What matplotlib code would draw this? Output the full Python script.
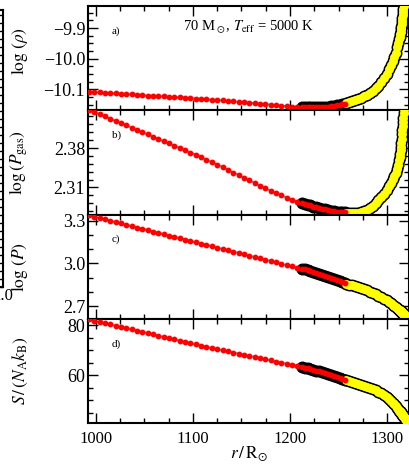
import matplotlib
matplotlib.use("Agg")
import matplotlib.pyplot as plt
from matplotlib.ticker import MultipleLocator, FixedLocator, FuncFormatter

plt.rcParams["font.family"] = ["Liberation Serif", "DejaVu Serif"]
plt.rcParams["mathtext.fontset"] = "stix"

# radius grid [R_sun]: radiative part, convective part, outer part
r_rad = [993, 998.5, 1004, 1009.5, 1015, 1020.5, 1026, 1031.5, 1037, 1042.5,
         1048, 1053.5, 1059, 1064.5, 1070, 1075.5, 1081, 1086.5, 1092, 1097.5,
         1103, 1108.5, 1114, 1119.5, 1125, 1130.5, 1136, 1141.5, 1147, 1152.5,
         1158, 1163.5, 1169, 1174.5, 1180, 1185.5, 1191, 1196.5, 1202, 1207.5]
r_conv = [1212, 1215, 1218, 1221, 1224, 1227, 1230, 1233, 1236, 1239, 1242,
          1245, 1248, 1251, 1254, 1257]
r_out = [1258, 1261, 1264, 1267, 1270, 1273, 1276, 1279, 1282, 1285, 1288,
         1291, 1294, 1297, 1299.5, 1302, 1304, 1306, 1307.5, 1309, 1310.5,
         1311.5, 1312.5, 1313, 1313.5, 1313.9, 1314.3, 1314.65, 1315, 1315.35,
         1315.7, 1316, 1316.3, 1316.6, 1316.9, 1317.2, 1317.5, 1318, 1318.5,
         1319, 1319.5, 1320, 1320.5, 1321, 1321.5, 1322, 1322.5, 1323, 1323.5]

# log(rho)
rho_rad = [-10.108, -10.109, -10.110, -10.111, -10.112, -10.113, -10.114, -10.115,
           -10.116, -10.117, -10.119, -10.120, -10.121, -10.122, -10.123, -10.124,
           -10.125, -10.126, -10.127, -10.129, -10.130, -10.131, -10.132, -10.134,
           -10.135, -10.136, -10.138, -10.139, -10.141, -10.142, -10.144, -10.145,
           -10.147, -10.148, -10.150, -10.152, -10.153, -10.155, -10.156, -10.157]
rho_conv = [-10.158, -10.158, -10.159, -10.159, -10.159, -10.159, -10.158, -10.158,
            -10.157, -10.156, -10.155, -10.154, -10.152, -10.150, -10.148, -10.146]
rho_out = [-10.145, -10.142, -10.139, -10.135, -10.131, -10.127, -10.123, -10.118,
           -10.112, -10.105, -10.097, -10.088, -10.077, -10.063, -10.050, -10.035,
           -10.022, -10.008, -9.995, -9.980, -9.963, -9.950, -9.936, -9.928,
           -9.920, -9.912, -9.903, -9.895, -9.886, -9.876, -9.866, -9.857,
           -9.848, -9.838, -9.828, -9.818, -9.808, -9.790, -9.770, -9.750,
           -9.730, -9.710, -9.690, -9.670, -9.650, -9.630, -9.610, -9.590, -9.570]

# log(P_gas)
pgas_rad = [2.448, 2.444, 2.440, 2.436, 2.432, 2.428, 2.424, 2.420, 2.416, 2.412,
            2.408, 2.404, 2.400, 2.396, 2.392, 2.388, 2.384, 2.380, 2.376, 2.372,
            2.368, 2.364, 2.359, 2.355, 2.350, 2.346, 2.341, 2.336, 2.332, 2.327,
            2.323, 2.318, 2.313, 2.309, 2.304, 2.300, 2.296, 2.292, 2.288, 2.285]
pgas_conv = [2.283, 2.281, 2.279, 2.278, 2.276, 2.275, 2.274, 2.272, 2.271, 2.270,
             2.269, 2.268, 2.267, 2.267, 2.266, 2.266]
pgas_out = [2.265, 2.264, 2.264, 2.264, 2.265, 2.266, 2.268, 2.270, 2.273, 2.277,
            2.282, 2.287, 2.293, 2.299, 2.305, 2.312, 2.318, 2.325, 2.330, 2.336,
            2.343, 2.350, 2.358, 2.364, 2.370, 2.376, 2.382, 2.389, 2.396, 2.404,
            2.412, 2.419, 2.426, 2.434, 2.442, 2.450, 2.458, 2.470, 2.480, 2.490,
            2.500, 2.510, 2.520, 2.530, 2.540, 2.550, 2.560, 2.570, 2.580]

# log(P)
p_rad = [3.336, 3.327, 3.317, 3.308, 3.298, 3.289, 3.280, 3.270, 3.261, 3.251,
         3.242, 3.233, 3.223, 3.214, 3.204, 3.195, 3.186, 3.176, 3.167, 3.157,
         3.148, 3.139, 3.129, 3.120, 3.110, 3.101, 3.091, 3.082, 3.073, 3.063,
         3.054, 3.044, 3.035, 3.026, 3.016, 3.007, 2.997, 2.988, 2.979, 2.969]
p_conv = [2.964, 2.958, 2.952, 2.946, 2.939, 2.932, 2.925, 2.918, 2.911, 2.904,
          2.897, 2.890, 2.883, 2.876, 2.868, 2.861]
p_out = [2.859, 2.853, 2.847, 2.841, 2.834, 2.827, 2.820, 2.812, 2.804, 2.795,
         2.786, 2.776, 2.765, 2.754, 2.744, 2.733, 2.723, 2.713, 2.705, 2.697,
         2.688, 2.682, 2.676, 2.673, 2.670, 2.668, 2.665, 2.663, 2.660, 2.658,
         2.655, 2.653, 2.651, 2.649, 2.646, 2.644, 2.642, 2.638, 2.634, 2.629,
         2.625, 2.620, 2.615, 2.610, 2.604, 2.598, 2.590, 2.580, 2.570]

# specific entropy S / (N_A k_B)
s_rad = [82.3, 81.8, 81.3, 80.8, 80.3, 79.8, 79.3, 78.8, 78.3, 77.8,
         77.3, 76.8, 76.3, 75.8, 75.3, 74.8, 74.3, 73.8, 73.3, 72.8,
         72.3, 71.8, 71.3, 70.85, 70.4, 69.95, 69.5, 69.05, 68.6, 68.15,
         67.7, 67.25, 66.8, 66.35, 65.9, 65.45, 65.0, 64.55, 64.1, 63.65]
s_conv = [63.3, 63.0, 62.7, 62.4, 62.1, 61.8, 61.45, 61.1, 60.75, 60.4,
          60.05, 59.7, 59.3, 58.9, 58.5, 58.1]
s_out = [57.95, 57.6, 57.2, 56.8, 56.45, 56.05, 55.65, 55.3, 54.85, 54.4,
         53.9, 53.4, 52.8, 52.0, 51.2, 50.3, 49.6, 48.9, 48.3, 47.6,
         46.9, 46.4, 45.8, 45.55, 45.3, 45.1, 44.9, 44.7, 44.5, 44.3,
         44.1, 43.95, 43.8, 43.6, 43.4, 43.25, 43.1, 42.8, 42.5, 42.2,
         41.9, 41.6, 41.3, 41.0, 40.7, 40.4, 40.0, 39.6, 39.2]

panel_tags = ["a)", "b)", "c)", "d)"]
ylabels = [r"$\log\,(\rho)$",
           r"$\log\left(P_{\rm gas}\right)$",
           r"$\log\,(P)$",
           r"$S\,/\,(N_{\rm A}k_{\rm B})$"]
yticks = [[-10.1, -10.0, -9.9], [2.31, 2.38], [2.7, 3.0, 3.3], [60, 80]]
yminor = [0.025, 0.014, 0.1, 5]
yfmt = ["%.1f", "%.2f", "%.1f", "%d"]
ylims = [(-10.168, -9.828), (2.262, 2.447), (2.614, 3.342), (40.8, 82.6)]
xticks = [1000, 1100, 1200, 1300]

series = [(rho_rad, rho_conv, rho_out),
          (pgas_rad, pgas_conv, pgas_out),
          (p_rad, p_conv, p_out),
          (s_rad, s_conv, s_out)]


def minus_formatter(fmt):
    return FuncFormatter(lambda v, pos: (fmt % v).replace("-", "\u2212"))


fig = plt.figure(figsize=(4.1, 4.69), dpi=100)
gs = fig.add_gridspec(4, 1, left=88 / 410, right=409.5 / 410,
                      top=1 - 6 / 469, bottom=1 - 423 / 469, hspace=0)
axes = [fig.add_subplot(gs[i]) for i in range(4)]
for ax in axes[1:]:
    ax.sharex(axes[0])

for i, ax in enumerate(axes):
    v_rad, v_conv, v_out = series[i]
    r_all = r_rad + r_conv + r_out
    v_all = v_rad + v_conv + v_out
    ax.plot(r_all, v_all, color="#7a8797", lw=1.4, zorder=1)
    ax.plot(r_conv, v_conv, ls="none", marker="o", ms=7.6, color="black", zorder=2)
    ax.plot(r_out, v_out, ls="none", marker="o", ms=7.6, color="black", zorder=2)
    ax.plot(r_out, v_out, ls="none", marker="o", ms=5.4, color="#ffff00", zorder=3)
    ax.plot(r_rad + r_conv, v_rad + v_conv, ls="none", marker="o", ms=3.2,
            color="red", zorder=4)

    ax.set_xlim(992, 1323)
    ax.set_ylim(*ylims[i])
    ax.yaxis.set_major_locator(FixedLocator(yticks[i]))
    ax.yaxis.set_minor_locator(MultipleLocator(yminor[i]))
    ax.yaxis.set_major_formatter(minus_formatter(yfmt[i]))
    ax.xaxis.set_major_locator(FixedLocator(xticks))
    ax.xaxis.set_minor_locator(MultipleLocator(25))
    ax.tick_params(which="both", direction="in", top=True, right=True,
                   width=1.0, labelsize=13, pad=2)
    ax.tick_params(which="major", length=7)
    ax.tick_params(which="minor", length=3.6)
    for sp in ax.spines.values():
        sp.set_linewidth(1.5)
    ax.set_ylabel(ylabels[i], fontsize=12.5)
    ax.yaxis.set_label_coords(-0.18, 0.57 if i == 0 else 0.5)
    ax.text(0.075, 0.76, panel_tags[i], transform=ax.transAxes, fontsize=8,
            ha="left", va="center")
    if i < 3:
        ax.tick_params(labelbottom=False)

axes[0].text(0.50, 0.79, r"70 M$_\odot$, $T_{\rm eff}$ = 5000 K",
             transform=axes[0].transAxes, fontsize=10.5, ha="center", va="center")
axes[3].tick_params(axis="x", labelsize=12, pad=6)
axes[3].set_xlabel(r"$r\,/\,\mathrm{R}_{\odot}$", fontsize=12.5)
axes[3].xaxis.set_label_coords(0.5, -0.2)

# edge of the neighbouring panel
nb = fig.add_axes([-0.3, 1 - 287 / 469, 0.3 + 2.5 / 410, 277 / 469])
nb.set_xlim(0, 1)
nb.set_ylim(0, 1)
nb.spines["left"].set_visible(False)
for sp in ("right", "top", "bottom"):
    nb.spines[sp].set_linewidth(1.5)
nb.yaxis.set_ticks_position("right")
nb.yaxis.set_major_locator(MultipleLocator(8 / 277))
nb.tick_params(axis="y", direction="in", length=4, width=1.0, labelright=False)
nb.xaxis.set_major_locator(FixedLocator([1.0]))
nb.xaxis.set_major_formatter(minus_formatter("%.1f"))
nb.tick_params(axis="x", direction="in", length=0, labelsize=12, pad=1)

fig.savefig("out.png", dpi=100)
